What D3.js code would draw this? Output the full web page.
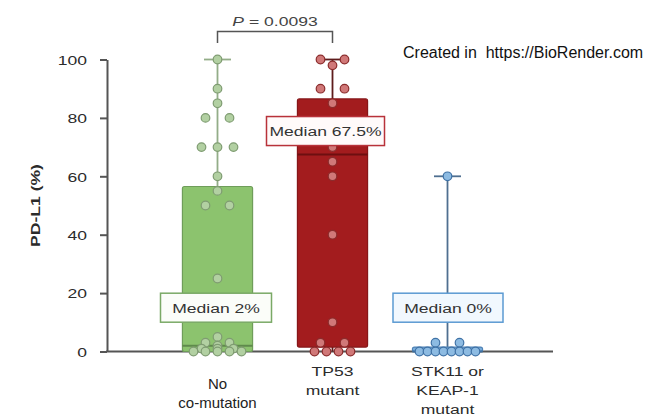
<!DOCTYPE html>
<html>
<head>
<meta charset="utf-8">
<script src="https://cdn.jsdelivr.net/npm/d3@7"></script>
<style>
  html, body { margin: 0; padding: 0; background: #fff; }
  svg { display: block; }
  text { font-family: "Liberation Sans", Arial, Helvetica, sans-serif; }
</style>
</head>
<body>
<svg id="chart" width="646" height="418"></svg>
<script>
// ---- data ----
const categories = ["No co-mutation", "TP53 mutant", "STK11 or KEAP-1 mutant"];
const categoryLines = [["No", "co-mutation"], ["TP53", "mutant"], ["STK11 or", "KEAP-1", "mutant"]];
const noCoMutation = [100, 90, 85, 80, 80, 70, 70, 70, 60, 55, 50, 50, 25, 5, 3, 3, 2, 1, 1, 1, 0, 0, 0, 0, 0];
const tp53Mutant = [100, 100, 98, 90, 90, 85, 70, 65, 60, 40, 10, 3, 3, 0, 0, 0, 0];
const stk11Keap1Mutant = [60, 3, 3, 0, 0, 0, 0, 0, 0, 0, 0];
const boxQ1 = [0, 1.5, 0];
const boxMedian = [2, 67.5, 0];
const boxQ3 = [56.5, 86.5, 1.5];
const whiskerMin = [0, 0, 0];
const whiskerMax = [100, 100, 60];
const medianLabels = ["Median 2%", "Median 67.5%", "Median 0%"];
const yTicks = [0, 20, 40, 60, 80, 100];
const pValueText = "0.0093";

const seriesValues = [noCoMutation, tp53Mutant, stk11Keap1Mutant];

// ---- styles ----
const palette = [
  { box: "#8cc36e", boxStroke: "#6f9d5a", median: "#5f8a4c", whisker: "#93ad88",
    pt: "#b2d0a2", ptStroke: "#7f9c72", lblStroke: "#7aa966", lblFill: "#fbfdf9" },
  { box: "#a31c1e", boxStroke: "#861618", median: "#6e0f10", whisker: "#5e1c1c",
    pt: "#d07878", ptStroke: "#8b2c2c", lblStroke: "#b8323a", lblFill: "#fffafa" },
  { box: "#7aaedc", boxStroke: "#4f82b5", median: "#3d6f9f", whisker: "#4f6f90",
    pt: "#8dbbe2", ptStroke: "#3f72a6", lblStroke: "#5b9ad2", lblFill: "#f1f8fe" }
];
const SX = 1.3;            // horizontal stretch of the figure's lettering
const FONT = 13.5;
const TEXT = "#2b2b2b";

const svg = d3.select("#chart");

// ---- scales ----
const y = d3.scaleLinear().domain([0, 100]).range([351.5, 59.5]);
const x = d3.scaleBand().domain(categories).range([160, 505]).padding(0);
const cx = c => x(c) + x.bandwidth() / 2;
const boxW = x.bandwidth() * 0.61;
const capW = 27;

// stretched text helper: anchor point (px,py) in page pixels
function stretchText(parent, px, py, str, opts = {}) {
  const g = parent.append("g")
    .attr("transform", `translate(${px},${py}) scale(${opts.sx || SX},1)`);
  const t = g.append("text")
    .attr("text-anchor", opts.anchor || "middle")
    .attr("font-size", opts.size || FONT)
    .attr("font-weight", opts.weight || "normal")
    .attr("fill", opts.fill || TEXT);
  if (opts.rotate) g.attr("transform", `translate(${px},${py}) rotate(${opts.rotate}) scale(${opts.sx || SX},1)`);
  t.text(str);
  return t;
}

// ---- axes ----
const yAxis = d3.axisLeft(y).tickValues(yTicks).tickSize(7).tickSizeOuter(0).tickFormat(d => d);
const gy = svg.append("g").attr("transform", "translate(107,0)").call(yAxis);
gy.select(".domain").attr("stroke", "#555").attr("stroke-width", 2);
gy.selectAll(".tick line").attr("stroke", "#555").attr("stroke-width", 2);
gy.selectAll(".tick text")
  .attr("font-family", "Liberation Sans, Arial, sans-serif")
  .attr("font-size", FONT).attr("fill", TEXT)
  .attr("x", -20 / SX).attr("dy", "0.36em")
  .attr("transform", `scale(${SX},1)`);

svg.append("line")
  .attr("x1", 106).attr("x2", 553)
  .attr("y1", y(0)).attr("y2", y(0))
  .attr("stroke", "#555").attr("stroke-width", 2);

stretchText(svg, 40, y(50), "PD-L1 (%)", { rotate: -90, weight: "bold", size: 13.5 });

// ---- boxes, whiskers, medians ----
categories.forEach((c, i) => {
  const col = palette[i];
  const g = svg.append("g");
  const xc = cx(c);
  // whisker
  g.append("line")
    .attr("x1", xc).attr("x2", xc)
    .attr("y1", y(whiskerMin[i])).attr("y2", y(whiskerMax[i]))
    .attr("stroke", col.whisker).attr("stroke-width", 1.8);
  g.append("line")
    .attr("x1", xc - capW / 2).attr("x2", xc + capW / 2)
    .attr("y1", y(whiskerMax[i])).attr("y2", y(whiskerMax[i]))
    .attr("stroke", col.whisker).attr("stroke-width", 1.8);
  // box
  g.append("rect")
    .attr("x", xc - boxW / 2).attr("width", boxW)
    .attr("y", y(boxQ3[i])).attr("height", y(boxQ1[i]) - y(boxQ3[i]))
    .attr("rx", 2)
    .attr("fill", col.box).attr("stroke", col.boxStroke).attr("stroke-width", 1.2);
  // median
  g.append("line")
    .attr("x1", xc - boxW / 2).attr("x2", xc + boxW / 2)
    .attr("y1", y(boxMedian[i])).attr("y2", y(boxMedian[i]))
    .attr("stroke", col.median).attr("stroke-width", 2);
});

// ---- points: equal values spread sideways ----
function dodge(values) {
  const counts = d3.rollup(values, v => v.length, d => d);
  const seen = new Map();
  return values.map(v => {
    const n = counts.get(v);
    const k = seen.get(v) || 0;
    seen.set(v, k + 1);
    const sp = n === 1 ? 0 : n === 2 ? 24 : n === 3 ? 16 : n <= 5 ? 12 : 8;
    return { v, dx: (k - (n - 1) / 2) * sp };
  });
}

categories.forEach((c, i) => {
  const col = palette[i];
  const xc = cx(c);
  svg.append("g").selectAll("circle")
    .data(dodge(seriesValues[i]))
    .join("circle")
    .attr("cx", d => xc + d.dx)
    .attr("cy", d => y(d.v))
    .attr("r", 4.3)
    .attr("fill", col.pt)
    .attr("stroke", col.ptStroke)
    .attr("stroke-width", 1.2);
});

// ---- median labels ----
const labelAt = [15, 75.5, 15];     // vertical anchor (data units) of each label
const labelShift = [-1.5, -7, 0.5]; // horizontal shift from the group centre
const labelW = [111, 118, 110];
const labelH = 29;
categories.forEach((c, i) => {
  const col = palette[i];
  const xc = cx(c) + labelShift[i];
  const yc = y(labelAt[i]);
  svg.append("rect")
    .attr("x", xc - labelW[i] / 2).attr("y", yc - labelH / 2)
    .attr("width", labelW[i]).attr("height", labelH)
    .attr("fill", col.lblFill).attr("stroke", col.lblStroke).attr("stroke-width", 1.5);
  stretchText(svg, xc, yc + 5, medianLabels[i], { fill: "#333" });
});

// ---- significance bracket ----
const x1 = cx(categories[0]), x2 = cx(categories[1]);
svg.append("path")
  .attr("d", `M${x1},43V31.5H${x2}V43`)
  .attr("fill", "none").attr("stroke", "#555").attr("stroke-width", 1.5);
const pt = stretchText(svg, (x1 + x2) / 2, 26, "", { size: 13.5, fill: "#444" });
pt.append("tspan").attr("font-style", "italic").text("P");
pt.append("tspan").text(" = " + pValueText);

// ---- category labels ----
categories.forEach((c, i) => {
  const xc = cx(c);
  if (i === 0) {
    categoryLines[i].forEach((line, j) => {
      svg.append("text")
        .attr("x", xc).attr("y", 389 + j * 19)
        .attr("text-anchor", "middle")
        .attr("font-family", "Open Sans, Noto Sans, sans-serif")
        .attr("font-size", 15).attr("fill", "#222")
        .text(line);
    });
  } else {
    categoryLines[i].forEach((line, j) => {
      stretchText(svg, xc, 376 + j * 19, line);
    });
  }
});

// ---- credit ----
svg.append("text")
  .attr("x", 403).attr("y", 58)
  .attr("font-size", 16).attr("fill", "#111")
  .style("white-space", "pre")
  .text("Created in  https://BioRender.com");
</script>
</body>
</html>
